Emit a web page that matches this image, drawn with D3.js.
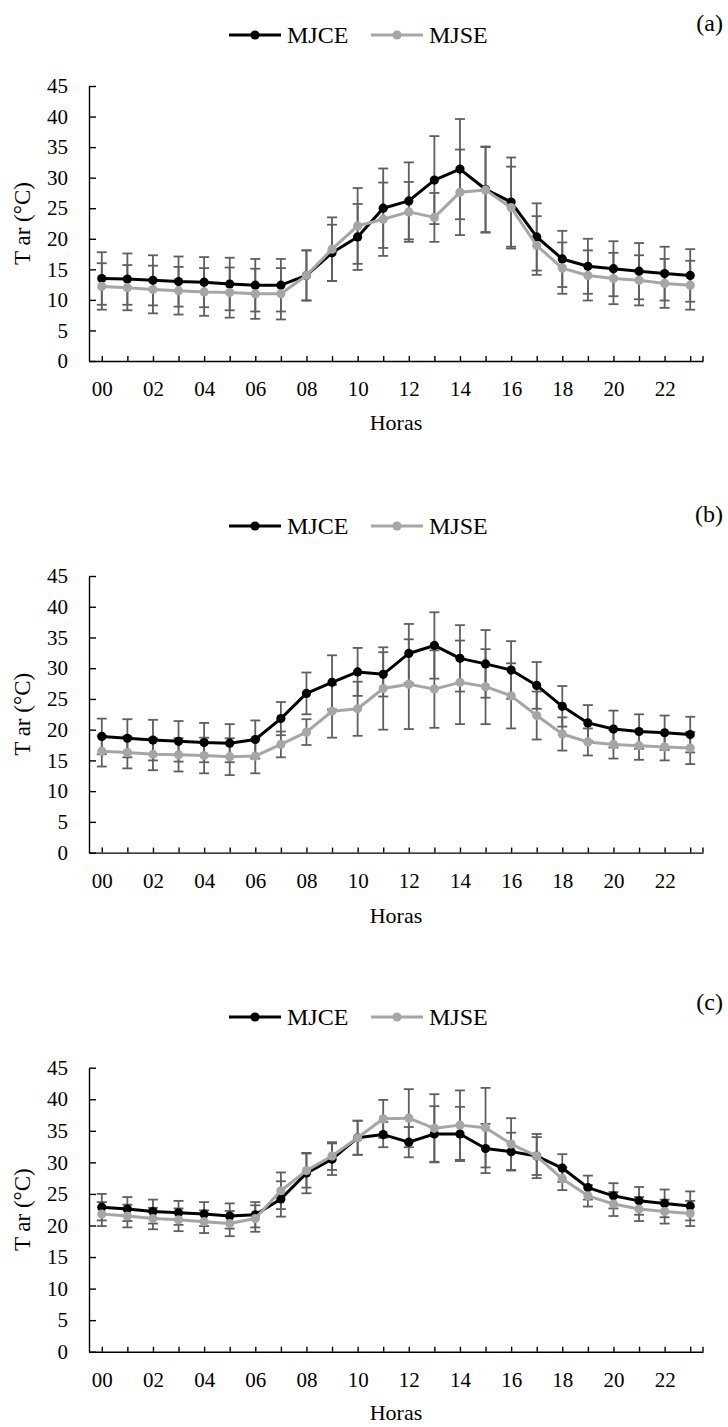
<!DOCTYPE html>
<html>
<head>
<meta charset="utf-8">
<script src="https://cdn.jsdelivr.net/npm/d3@7"></script>
<style>
  html, body { margin: 0; padding: 0; background: #fff; }
  svg { display: block; }
  text { font-family: "Liberation Serif", "Times New Roman", serif; fill: #000; }
</style>
</head>
<body>
<svg id="chart" width="728" height="1427"></svg>
<script>
// ---------- data ----------
const hours = ["00","01","02","03","04","05","06","07","08","09","10","11","12","13","14","15","16","17","18","19","20","21","22","23"];
const seriesNames = ["MJCE", "MJSE"];
const yTicks = [0, 5, 10, 15, 20, 25, 30, 35, 40, 45];
const panelLabels = ["(a)", "(b)", "(c)"];
const xTitle = "Horas";
const yTitle = "T  ar (°C)";

// Panel (a)
const aMJCE   = [13.5,13.4,13.2,13.0,12.9,12.6,12.4,12.4,14.0,17.7,20.3,25.0,26.2,29.6,31.4,28.1,26.0,20.3,16.7,15.5,15.1,14.7,14.3,14.0];
const aMJSE   = [12.2,12.0,11.7,11.5,11.3,11.2,11.0,11.0,14.0,18.3,22.1,23.2,24.4,23.5,27.6,28.0,25.1,18.9,15.2,14.0,13.5,13.2,12.7,12.4];
const aMJCEsd = [4.3,4.2,4.1,4.1,4.1,4.3,4.3,4.3,4.1,4.6,5.4,6.5,6.3,7.2,8.2,7.0,7.3,5.5,4.6,4.5,4.5,4.6,4.4,4.3];
const aMJSEsd = [3.8,3.7,3.9,3.9,3.9,4.1,4.1,4.2,4.1,5.2,6.2,6.0,4.9,4.0,7.0,7.0,6.7,4.8,4.2,4.1,4.2,4.1,4.0,4.0];

// Panel (b)
const bMJCE   = [18.9,18.6,18.3,18.1,17.9,17.8,18.4,21.8,25.9,27.7,29.4,29.0,32.4,33.7,31.6,30.7,29.7,27.2,23.8,21.1,20.1,19.7,19.5,19.2];
const bMJSE   = [16.5,16.3,16.0,15.9,15.8,15.6,15.7,17.6,19.6,23.0,23.4,26.7,27.4,26.6,27.7,27.0,25.5,22.3,19.3,18.0,17.6,17.4,17.2,17.0];
const bMJCEsd = [2.9,3.1,3.3,3.3,3.2,3.1,3.1,2.7,3.4,4.4,3.9,3.6,4.8,5.4,5.4,5.5,4.7,3.8,3.3,2.9,3.0,2.8,2.8,2.9];
const bMJSEsd = [2.5,2.6,2.6,2.7,2.9,3.0,2.8,2.1,2.1,4.3,4.4,6.7,7.3,6.3,6.8,6.1,5.3,3.9,2.7,2.2,2.3,2.3,2.2,2.6];

// Panel (c)
const cMJCE   = [22.9,22.6,22.2,22.0,21.8,21.5,21.7,24.2,28.3,30.5,33.9,34.4,33.2,34.5,34.5,32.2,31.7,31.0,29.1,26.0,24.7,23.9,23.5,23.1];
const cMJSE   = [21.8,21.5,21.1,20.9,20.6,20.3,21.1,25.5,28.7,31.0,33.9,36.9,37.0,35.4,35.9,35.5,32.9,31.0,27.4,24.7,23.4,22.6,22.2,21.9];
const cMJCEsd = [2.1,1.9,1.9,1.9,1.9,2.0,2.0,2.8,3.2,2.5,2.7,2.0,2.4,4.4,4.3,3.9,3.0,3.5,2.2,1.9,2.0,2.2,2.2,2.3];
const cMJSEsd = [1.9,1.8,1.7,1.8,1.8,2.0,2.1,2.9,2.7,2.2,2.7,3.0,4.6,5.4,5.5,6.3,4.1,3.0,1.8,1.7,1.9,1.9,1.9,2.0];

// ---------- layout ----------
const colors = { MJCE: "#000000", MJSE: "#a6a6a6", err: "#5f5f5f" };
const left = 89, right = 703;
const layout = [
  { top: 86,   bottom: 361,   legendY: 35,   labelY: 31,   titleY: 430 },
  { top: 576,  bottom: 852.6, legendY: 526,  labelY: 522,  titleY: 923 },
  { top: 1067.7, bottom: 1351.7, legendY: 1017, labelY: 1010, titleY: 1420 }
];
const panels = [
  { label: panelLabels[0], series: [aMJCE, aMJSE], sds: [aMJCEsd, aMJSEsd] },
  { label: panelLabels[1], series: [bMJCE, bMJSE], sds: [bMJCEsd, bMJSEsd] },
  { label: panelLabels[2], series: [cMJCE, cMJSE], sds: [cMJCEsd, cMJSEsd] }
];

const svg = d3.select("#chart");

panels.forEach((p, pi) => {
  const L = layout[pi];
  const g = svg.append("g");
  const x = d3.scalePoint().domain(hours).range([left, right]).padding(0.5);
  const y = d3.scaleLinear().domain([0, 45]).range([L.bottom, L.top]);

  // Axes
  const yAxis = d3.axisLeft(y).tickValues(yTicks).tickSizeInner(-7).tickSizeOuter(0).tickPadding(21);
  const ya = g.append("g").attr("transform", `translate(${left},0)`).call(yAxis);
  ya.attr("font-family", null).attr("font-size", null);
  ya.select(".domain").attr("stroke", "#000").attr("stroke-width", 1.4);
  ya.selectAll(".tick line").attr("stroke", "#000").attr("stroke-width", 1.4);
  ya.selectAll(".tick text").style("font-size", "21px");

  const xAxis = d3.axisBottom(x).tickSizeInner(-5).tickSizeOuter(0).tickPadding(20)
    .tickFormat(d => (+d % 2 === 0 ? d : ""));
  const xa = g.append("g").attr("transform", `translate(0,${L.bottom})`).call(xAxis);
  xa.attr("font-family", null).attr("font-size", null);
  xa.select(".domain").attr("stroke", "#000").attr("stroke-width", 1.4);
  xa.selectAll(".tick line").attr("stroke", "#000").attr("stroke-width", 1.4);
  xa.selectAll(".tick text").style("font-size", "21px");
  // end tick at right edge of axis
  xa.append("line").attr("x1", right).attr("x2", right).attr("y1", 0).attr("y2", -5)
    .attr("stroke", "#000").attr("stroke-width", 1.4);

  // Error bars
  const cap = 5;
  p.series.forEach((vals, si) => {
    const sd = p.sds[si];
    const eg = g.append("g").attr("stroke", colors.err).attr("stroke-width", 1.8).attr("fill", "none");
    hours.forEach((h, i) => {
      const cx = x(h), y1 = y(vals[i] + sd[i]), y0 = y(vals[i] - sd[i]);
      eg.append("line").attr("x1", cx).attr("x2", cx).attr("y1", y1).attr("y2", y0);
      eg.append("line").attr("x1", cx - cap).attr("x2", cx + cap).attr("y1", y1).attr("y2", y1);
      eg.append("line").attr("x1", cx - cap).attr("x2", cx + cap).attr("y1", y0).attr("y2", y0);
    });
  });

  // Lines and markers
  p.series.forEach((vals, si) => {
    const col = colors[seriesNames[si]];
    const line = d3.line().x((d, i) => x(hours[i])).y(d => y(d));
    g.append("path").datum(vals).attr("d", line).attr("fill", "none")
      .attr("stroke", col).attr("stroke-width", 3).attr("stroke-linejoin", "round");
    g.append("g").selectAll("circle").data(vals).join("circle")
      .attr("cx", (d, i) => x(hours[i])).attr("cy", d => y(d)).attr("r", 4.6).attr("fill", col);
  });

  // Legend
  const leg = g.append("g");
  const legItems = [{ x0: 229, x1: 281, tx: 287 }, { x0: 371, x1: 423, tx: 429 }];
  seriesNames.forEach((name, si) => {
    const it = legItems[si];
    const col = colors[name];
    leg.append("line").attr("x1", it.x0).attr("x2", it.x1).attr("y1", L.legendY).attr("y2", L.legendY)
      .attr("stroke", col).attr("stroke-width", 3);
    leg.append("circle").attr("cx", (it.x0 + it.x1) / 2).attr("cy", L.legendY).attr("r", 4.6).attr("fill", col);
    leg.append("text").attr("x", it.tx).attr("y", L.legendY + 8).style("font-size", "24px").text(name);
  });

  // Panel label
  g.append("text").attr("x", 723).attr("y", L.labelY).attr("text-anchor", "end")
    .style("font-size", "24px").text(p.label);

  // Axis titles
  g.append("text").attr("x", (left + right) / 2).attr("y", L.titleY).attr("text-anchor", "middle")
    .style("font-size", "22px").text(xTitle);
  g.append("text").attr("transform", `translate(30,${(L.top + L.bottom) / 2}) rotate(-90)`)
    .attr("text-anchor", "middle").style("font-size", "23px").text(yTitle);
});
</script>
</body>
</html>
